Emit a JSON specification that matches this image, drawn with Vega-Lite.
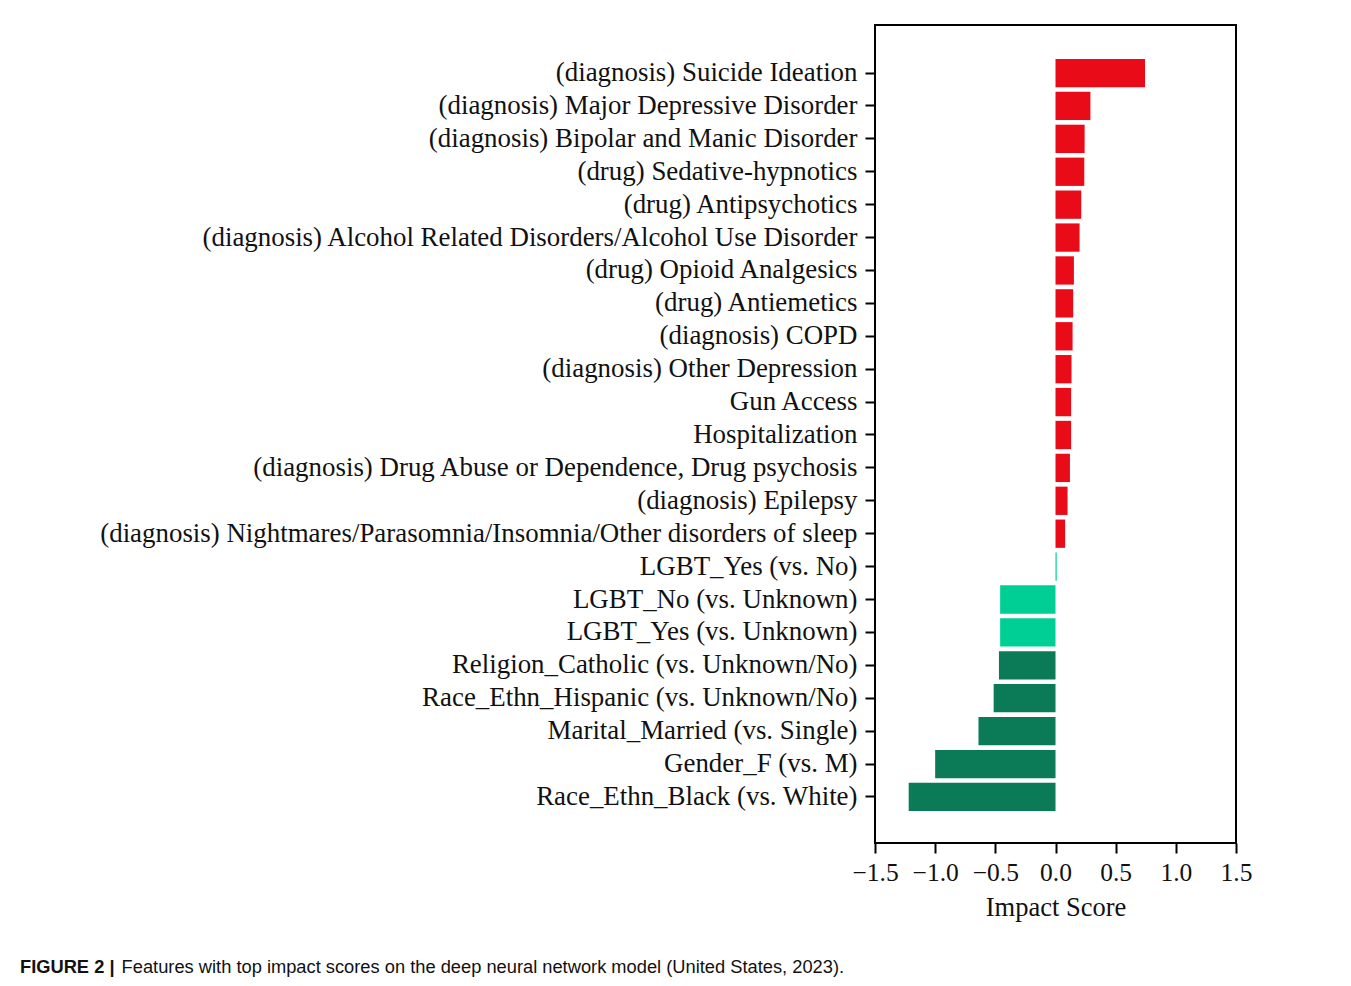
{
  "$schema": "https://vega.github.io/schema/vega-lite/v6.json",
  "autosize": {"type": "none"},
  "width": 361,
  "height": 818,
  "padding": {"left": 875, "top": 25, "right": 115, "bottom": 143},
  "background": "white",
  "title": {
    "text": "FIGURE 2 |",
    "subtitle": "\u200b\u00a0\u00a0\u00a0\u00a0\u00a0\u00a0\u00a0\u00a0\u00a0\u00a0\u00a0\u00a0\u00a0\u00a0\u00a0\u00a0\u00a0\u00a0\u00a0\u00a0Features with top impact scores on the deep neural network model (United States, 2023).",
    "orient": "bottom",
    "anchor": "start",
    "frame": "group",
    "dx": -855,
    "offset": 38,
    "font": "Liberation Sans",
    "fontSize": 18.3,
    "fontWeight": "bold",
    "color": "#111111",
    "subtitleFont": "Liberation Sans",
    "subtitleFontSize": 18.3,
    "subtitleFontWeight": "normal",
    "subtitleColor": "#111111",
    "subtitlePadding": -18.3
  },
  "data": {
    "values": [
      {"feature": "(diagnosis) Suicide Ideation", "score": 0.744, "group": "pos"},
      {"feature": "(diagnosis) Major Depressive Disorder", "score": 0.29, "group": "pos"},
      {"feature": "(diagnosis) Bipolar and Manic Disorder", "score": 0.242, "group": "pos"},
      {"feature": "(drug) Sedative-hypnotics", "score": 0.239, "group": "pos"},
      {"feature": "(drug) Antipsychotics", "score": 0.214, "group": "pos"},
      {"feature": "(diagnosis) Alcohol Related Disorders/Alcohol Use Disorder", "score": 0.2, "group": "pos"},
      {"feature": "(drug) Opioid Analgesics", "score": 0.153, "group": "pos"},
      {"feature": "(drug) Antiemetics", "score": 0.147, "group": "pos"},
      {"feature": "(diagnosis) COPD", "score": 0.142, "group": "pos"},
      {"feature": "(diagnosis) Other Depression", "score": 0.133, "group": "pos"},
      {"feature": "Gun Access", "score": 0.13, "group": "pos"},
      {"feature": "Hospitalization", "score": 0.13, "group": "pos"},
      {"feature": "(diagnosis) Drug Abuse or Dependence, Drug psychosis", "score": 0.12, "group": "pos"},
      {"feature": "(diagnosis) Epilepsy", "score": 0.1, "group": "pos"},
      {"feature": "(diagnosis) Nightmares/Parasomnia/Insomnia/Other disorders of sleep ", "score": 0.08, "group": "pos"},
      {"feature": "LGBT_Yes (vs. No)", "score": 0.01, "group": "light"},
      {"feature": "LGBT_No (vs. Unknown)", "score": -0.46, "group": "light"},
      {"feature": "LGBT_Yes (vs. Unknown)", "score": -0.46, "group": "light"},
      {"feature": "Religion_Catholic (vs. Unknown/No)", "score": -0.47, "group": "dark"},
      {"feature": "Race_Ethn_Hispanic (vs. Unknown/No)", "score": -0.514, "group": "dark"},
      {"feature": "Marital_Married (vs. Single)", "score": -0.64, "group": "dark"},
      {"feature": "Gender_F (vs. M)", "score": -1.0, "group": "dark"},
      {"feature": "Race_Ethn_Black (vs. White)", "score": -1.22, "group": "dark"}
    ]
  },
  "mark": {"type": "bar"},
  "encoding": {
    "y": {
      "field": "feature",
      "type": "nominal",
      "sort": null,
      "scale": {"paddingInner": 0.14, "paddingOuter": 1.09, "align": 0.515},
      "axis": {
        "title": null,
        "domain": false,
        "ticks": true,
        "tickSize": 10,
        "tickWidth": 2,
        "tickColor": "#000000",
        "labelFont": "Liberation Serif",
        "labelFontSize": 26.9,
        "labelColor": "#111111",
        "labelPadding": 8,
        "labelLimit": 0,
        "labelOverlap": false
      }
    },
    "x": {
      "field": "score",
      "type": "quantitative",
      "scale": {"domain": [-1.5, 1.5], "nice": false, "zero": false},
      "axis": {
        "title": "Impact Score",
        "values": [-1.5, -1.0, -0.5, 0.0, 0.5, 1.0, 1.5],
        "format": ".1f",
        "grid": false,
        "domain": false,
        "tickSize": 10,
        "tickWidth": 2,
        "tickColor": "#000000",
        "labelFont": "Liberation Serif",
        "labelFontSize": 25.5,
        "labelColor": "#111111",
        "labelPadding": 7,
        "labelFlush": false,
        "labelOverlap": false,
        "titleFont": "Liberation Serif",
        "titleFontSize": 26.5,
        "titleFontWeight": "normal",
        "titleColor": "#111111",
        "titlePadding": 9
      }
    },
    "color": {
      "field": "group",
      "type": "nominal",
      "scale": {"domain": ["pos", "light", "dark"], "range": ["#EA0B18", "#00CF95", "#0B7A57"]},
      "legend": null
    }
  },
  "config": {
    "view": {"stroke": "#000000", "strokeWidth": 2}
  }
}
